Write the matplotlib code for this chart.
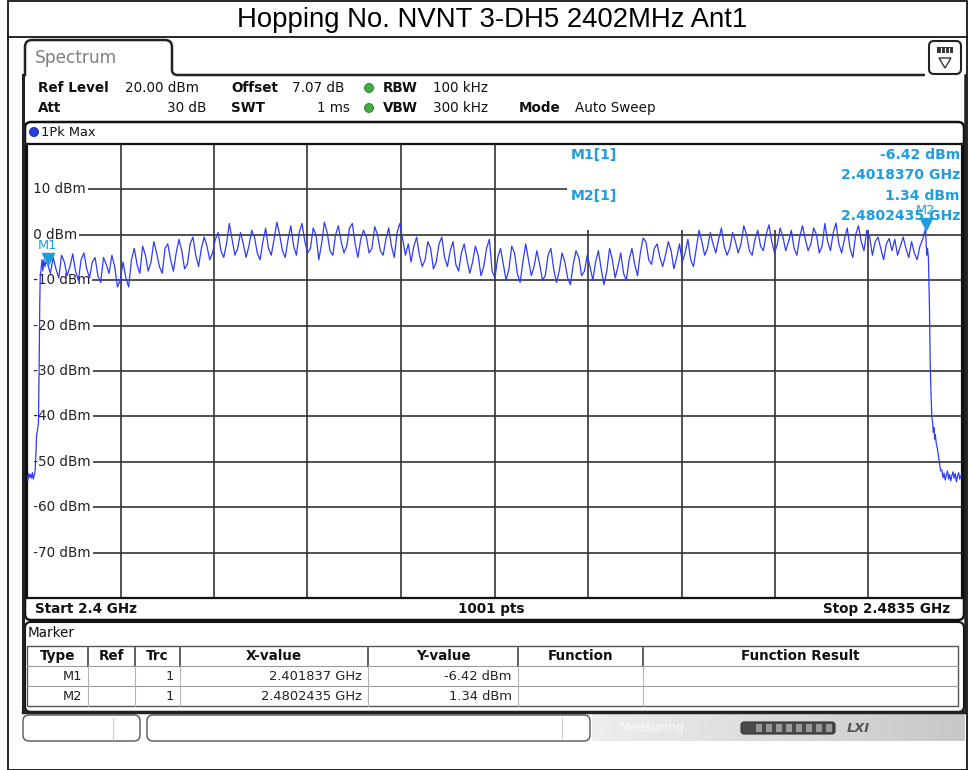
import numpy as np
import matplotlib
matplotlib.use('Agg')
import matplotlib.pyplot as plt
from matplotlib.patches import FancyBboxPatch, Rectangle, Circle, Polygon
from matplotlib.path import Path
from matplotlib.patches import PathPatch
import matplotlib.transforms as mtransforms

# ---------------- data ----------------
title = "Hopping No. NVNT 3-DH5 2402MHz Ant1"
f_start, f_stop = 2.4, 2.4835
ref_top, ref_bottom = 20, -80
level_ticks = [10, 0, -10, -20, -30, -40, -50, -60, -70]
n_xdiv = 10
m1_freq, m1_level = 2.401837, -6.42
m2_freq, m2_level = 2.4802435, 1.34

lead_freq = [2.40000, 2.40008, 2.40016, 2.40024, 2.40032, 2.40040, 2.40048, 2.40056,
             2.40064, 2.40072, 2.40080, 2.40086, 2.40094, 2.40102, 2.40108, 2.40114,
             2.40118, 2.40126, 2.40134, 2.40142, 2.40150, 2.40160, 2.40170]
lead_level = [-53.0, -54.2, -52.6, -53.4, -52.8, -53.6, -52.4, -53.8,
              -53.0, -52.2, -48.0, -44.0, -43.0, -41.5, -30.0, -15.0,
              -9.5, -7.5, -5.5, -8.0, -5.5, -7.0, -6.0]

main_level = [
    # 2.4018 - 2.4118
    -6.42, -8.5, -5.0, -7.5, -9.5, -4.5, -6.0, -9.0, -7.0, -4.2, -8.0, -10.0, -5.5, -4.0,
    -7.5, -9.5, -6.0, -5.0, -9.0, -10.5, -5.0, -6.5, -8.5, -4.5, -7.0, -11.5, -10.0, -6.0,
    -9.5, -11.5, -5.5, -3.0, -6.5, -8.5, -2.5, -4.5, -8.0, -6.0, -1.5, -4.0,
    # 2.4118 - 2.4218
    -7.0, -8.5, -3.0, -2.0, -5.5, -8.0, -4.0, -1.0, -3.5, -7.5, -6.5, -2.0, -0.5, -4.5,
    -7.0, -3.0, -0.5, -2.5, -5.5, -4.0, -1.0, 0.5, -3.5, -5.0, -2.0, 2.5, -1.0, -4.5,
    -3.0, 0.5, -2.0, -5.0, -2.5, 1.0, -0.5, -4.0, -5.5, -1.5, 1.5, -3.0,
    # 2.4218 - 2.4318
    -4.5, -1.0, 2.8, 0.0, -3.5, -5.0, -1.0, 2.0, -2.5, -4.5, 0.5, 2.5, -1.5, -4.0,
    -3.0, 1.5, 0.0, -5.5, -2.0, 2.8, 0.5, -3.5, -4.5, 0.0, 2.0, -1.5, -4.0, -2.5,
    1.5, 2.5, -2.0, -5.0, -1.0, 1.0, -0.5, -4.0, -3.0, 1.8, 0.0, -3.5,
    # 2.4318 - 2.4418
    -4.5, -1.0, 1.5, -2.5, -5.0, 0.5, 2.5, -1.0, -4.5, -2.0, -6.0, -2.5, -0.5, -4.5,
    -7.0, -5.5, -1.5, -3.0, -7.5, -6.0, -2.0, -0.5, -5.0, -7.0, -3.5, -1.5, -6.5, -8.0,
    -4.0, -2.0, -5.5, -8.5, -6.0, -2.5, -4.5, -9.0, -7.0, -3.0, -1.0, -8.0,
    # 2.4418 - 2.4518
    -9.5, -5.0, -3.0, -6.5, -10.0, -7.5, -2.5, -4.0, -8.5, -10.5, -6.0, -2.0, -5.5, -9.0,
    -7.0, -3.5, -6.5, -10.0, -9.0, -4.5, -3.0, -7.5, -10.5, -8.0, -4.0, -6.0, -9.5, -11.0,
    -6.5, -3.5, -5.0, -9.0, -8.0, -4.5, -7.0, -10.0, -6.0, -3.5, -7.5, -11.0,
    # 2.4518 - 2.4618
    -8.0, -3.0, -5.5, -9.5, -7.0, -4.0, -8.5, -10.0, -5.5, -3.0, -6.5, -9.0, -4.0, -0.7,
    -1.5, -5.5, -6.5, -3.0, -2.0, -5.0, -7.0, -4.5, -1.5, -3.5, -7.5, -5.0, -2.0, -6.0,
    -4.0, -1.0, -5.5, -7.0, -3.0, 1.0, -1.5, -4.5, -3.0, 0.5, -2.0, -4.0,
    # 2.4618 - 2.4718
    -1.0, 1.5, -2.5, -4.5, -3.0, 0.5, -1.5, -4.0, -2.0, 2.0, 0.0, -3.5, -4.5, -1.0,
    1.0, -2.5, -3.5, 0.0, 2.2, -1.5, -4.0, -2.0, 1.5, -0.5, -3.5, -1.5, 1.0, -3.0,
    -4.5, -0.5, 2.0, -1.0, -3.5, -2.0, 1.5, 0.0, -4.0, -2.5, 2.5, -1.5,
    # 2.4718 - 2.4802
    -3.5, 0.5, 2.6, -2.0, -4.0, -1.0, 1.5, -3.0, -5.0, 0.0, 2.0, -1.5, -3.5, 1.0,
    -0.5, -4.5, -1.5, -0.5, -3.0, -5.5, -2.0, -0.8, -3.5, -1.0, -4.5, -2.5, -0.5, -3.0,
    -5.0, -1.5, -4.0, -5.5, -2.5, -1.0, 1.34,
]

tail_freq = [2.48030, 2.48036, 2.48042, 2.48050, 2.48056, 2.48060, 2.48066, 2.48072,
             2.48080, 2.48088, 2.48094, 2.48100, 2.48106, 2.48112, 2.48120, 2.48130,
             2.48150, 2.48160, 2.48170, 2.48180, 2.48190, 2.48200, 2.48210, 2.48220,
             2.48230, 2.48240, 2.48250, 2.48260, 2.48270, 2.48280, 2.48290, 2.48300,
             2.48310, 2.48320, 2.48330, 2.48340, 2.48350]
tail_level = [-2.0, -4.5, -3.0, -5.0, -12.0, -17.0, -28.0, -34.0,
              -40.0, -41.5, -43.5, -42.5, -45.0, -44.0, -46.0, -47.0,
              -50.5, -52.0, -51.8, -53.5, -52.5, -54.0, -53.0, -52.0,
              -53.8, -52.8, -54.2, -53.0, -52.2, -53.6, -52.6, -54.4,
              -53.2, -52.4, -53.8, -53.0, -53.5]

header_row1 = [("Ref Level", True, 38), ("20.00 dBm", False, 125), ("Offset", True, 231),
               ("7.07 dB", False, 292), ("RBW", True, 383), ("100 kHz", False, 433)]
header_row2 = [("Att", True, 38), ("SWT", True, 231), ("VBW", True, 383),
               ("300 kHz", False, 433), ("Mode", True, 519), ("Auto Sweep", False, 575)]

table_cols = ["Type", "Ref", "Trc", "X-value", "Y-value", "Function", "Function Result"]
table_rows = [["M1", "", "1", "2.401837 GHz", "-6.42 dBm", "", ""],
              ["M2", "", "1", "2.4802435 GHz", "1.34 dBm", "", ""]]

# ---------------- figure ----------------
W, H = 970, 770
fig = plt.figure(figsize=(W / 100, H / 100), dpi=100)
fig.patch.set_facecolor('white')

bg = fig.add_axes([0, 0, 1, 1], zorder=0)
bg.set_xlim(0, W)
bg.set_ylim(H, 0)
bg.axis('off')

SANS = ['DejaVu Sans']
TRACE = '#2f3cf5'
MARK = '#1e9ee0'


def px(v):
    return v * 0.72


# outer title table
bg.add_patch(Rectangle((8, 0.5), 959, 769, fill=False, ec='black', lw=1.2))
bg.plot([8, 967], [37, 37], color='black', lw=1.2)
bg.text(492, 20, title, ha='center', va='center', fontsize=px(27.5),
        family=['Liberation Sans Narrow', 'Liberation Sans', 'DejaVu Sans'])

# screen: left / right dark borders
bg.plot([23, 23], [75, 712], color='#222222', lw=2.2)
bg.plot([965, 965], [75, 712], color='#222222', lw=1.8)

# tab outline
tab_verts = [(23, 75), (25, 75), (25, 47), (25, 40), (32, 40), (165, 40), (172, 40), (172, 47),
             (172, 70), (172, 75), (178, 75), (925, 75)]
tab_codes = [Path.MOVETO, Path.LINETO, Path.LINETO, Path.CURVE3, Path.CURVE3, Path.LINETO,
             Path.CURVE3, Path.CURVE3, Path.LINETO, Path.CURVE3, Path.CURVE3, Path.LINETO]
bg.add_patch(PathPatch(Path(tab_verts, tab_codes), fill=False, ec='#222222', lw=1.8))
bg.text(35, 58, "Spectrum", ha='left', va='center', fontsize=px(17), color='#808080',
        family=SANS)

# icon top right
bg.add_patch(FancyBboxPatch((929, 41), 32, 33, boxstyle="round,pad=0,rounding_size=5",
                            fc='white', ec='#222222', lw=1.5))
bg.add_patch(Rectangle((937, 47), 16, 6, fc='#333333', ec='none'))
for xx in (941, 945, 949):
    bg.plot([xx, xx], [47.5, 52.5], color='white', lw=0.8)
bg.add_patch(Polygon([[939, 58], [951, 58], [945, 68]], closed=True, fill=False,
                     ec='#333333', lw=1.0))

# header
for txt, bold, x in header_row1:
    bg.text(x, 88, txt, ha='left', va='center', fontsize=px(13.5),
            fontweight='bold' if bold else 'normal', family=SANS, color='#111111')
for txt, bold, x in header_row2:
    bg.text(x, 108, txt, ha='left', va='center', fontsize=px(13.5),
            fontweight='bold' if bold else 'normal', family=SANS, color='#111111')
bg.text(206, 108, "30 dB", ha='right', va='center', fontsize=px(13.5), family=SANS,
        color='#111111')
bg.text(350, 108, "1 ms", ha='right', va='center', fontsize=px(13.5), family=SANS,
        color='#111111')
for yy in (88, 108):
    bg.add_patch(Circle((369, yy), 4.5, fc='#44aa44', ec='#2a7a2a', lw=0.6))

# plot panel
bg.add_patch(FancyBboxPatch((25, 122), 939, 498, boxstyle="round,pad=0,rounding_size=6",
                            fill=False, ec='#111111', lw=1.8))
bg.add_patch(Circle((34, 132), 4.5, fc='#2a3fe0', ec='#1020a0', lw=0.6))
bg.text(41, 132, "1Pk Max", ha='left', va='center', fontsize=px(13), family=SANS,
        color='#111111')
bg.text(35, 609, f"Start {f_start:g} GHz", ha='left', va='center', fontsize=px(13.5),
        fontweight='bold', family=SANS, color='#111111')
bg.text(491, 609, "1001 pts", ha='center', va='center', fontsize=px(13.5),
        fontweight='bold', family=SANS, color='#111111')
bg.text(950, 609, f"Stop {f_stop:g} GHz", ha='right', va='center', fontsize=px(13.5),
        fontweight='bold', family=SANS, color='#111111')

# marker table panel
bg.add_patch(FancyBboxPatch((25, 622), 939, 90, boxstyle="round,pad=0,rounding_size=6",
                            fill=False, ec='#111111', lw=1.5))
bg.plot([23, 965], [712, 712], color='#222222', lw=2.5)
bg.text(28, 633, "Marker", ha='left', va='center', fontsize=px(13.5), family=SANS,
        color='#111111')
col_edges = [27, 88, 135, 180, 368, 518, 643, 958]
row_edges = [646, 666, 686, 706]
bg.add_patch(Rectangle((col_edges[0], row_edges[0]), col_edges[-1] - col_edges[0],
                       row_edges[-1] - row_edges[0], fill=False, ec='#555555', lw=1.0))
for yy in row_edges[1:-1]:
    bg.plot([col_edges[0], col_edges[-1]], [yy, yy], color='#9a9a9a', lw=0.8)
for xx in col_edges[1:-1]:
    bg.plot([xx, xx], [row_edges[0] + 2, row_edges[1]], color='#444444', lw=1.2)
    bg.plot([xx, xx], [row_edges[1], row_edges[-1]], color='#b5b5b5', lw=0.8)
for i, c in enumerate(table_cols):
    cx = (col_edges[i] + col_edges[i + 1]) / 2
    bg.text(cx, 656, c, ha='center', va='center', fontsize=px(13.5), fontweight='bold',
            family=SANS, color='#111111')
for r, row in enumerate(table_rows):
    yy = (row_edges[r + 1] + row_edges[r + 2]) / 2
    for i, v in enumerate(row):
        if v:
            bg.text(col_edges[i + 1] - 6, yy, v, ha='right', va='center', fontsize=px(13),
                    family=SANS, color='#222222')

# status bar
bg.add_patch(FancyBboxPatch((23, 715), 117, 26, boxstyle="round,pad=0,rounding_size=6",
                            fill=False, ec='#555555', lw=1.0))
bg.plot([113, 113], [718, 738], color='#cccccc', lw=0.8)
bg.add_patch(FancyBboxPatch((147, 715), 443, 26, boxstyle="round,pad=0,rounding_size=6",
                            fill=False, ec='#555555', lw=1.0))
bg.plot([562, 562], [718, 738], color='#cccccc', lw=0.8)
grad = np.linspace(0.93, 0.78, 200)[None, :]
bg.imshow(grad, extent=[592, 965, 741, 714], cmap='gray', vmin=0, vmax=1, aspect='auto',
          zorder=0.5)
bg.set_xlim(0, W)
bg.set_ylim(H, 0)
bg.text(620, 728, "Measuring...", ha='left', va='center', fontsize=px(12.5), color='#fafafa',
        family=SANS)
bg.add_patch(FancyBboxPatch((741, 722), 94, 12, boxstyle="round,pad=0,rounding_size=3",
                            fc='#4a4a4a', ec='#333333', lw=0.8))
for k in range(8):
    bg.add_patch(Rectangle((756 + k * 10, 724), 6, 8, fc='#9a9a9a', ec='none'))
bg.text(858, 728, "LXI", ha='center', va='center', fontsize=px(13), fontweight='bold',
        fontstyle='italic', color='#555555', family=SANS)

# ---------------- spectrum axes ----------------
x0, x1, y0, y1 = 27, 962, 144, 598
ax = fig.add_axes([x0 / W, 1 - y1 / H, (x1 - x0) / W, (y1 - y0) / H], zorder=1)
ax.set_facecolor('white')
ax.set_xlim(f_start, f_stop)
ax.set_ylim(ref_bottom, ref_top)
ax.set_xticks(np.linspace(f_start, f_stop, n_xdiv + 1)[1:-1])
ax.set_yticks(level_ticks)
ax.tick_params(length=0, labelbottom=False, labelleft=False)
ax.grid(True, color='#333333', lw=1.2)
ax.set_axisbelow(True)
for s in ax.spines.values():
    s.set_color('#111111')
    s.set_linewidth(1.6)

# white marker info area (covers grid)
ax.add_patch(Rectangle((0.578, 0.81), 0.422, 0.19, transform=ax.transAxes, fc='white',
                       ec='none', zorder=1.5))
# level labels
for v in level_ticks:
    ax.text(0.002, v, f" {v} dBm", transform=ax.get_yaxis_transform(), ha='left',
            va='center', fontsize=px(13.5), family=SANS, color='#222222', zorder=2,
            bbox=dict(fc='white', ec='none', pad=1.6))

freq = np.concatenate([lead_freq, np.linspace(m1_freq, m2_freq, len(main_level)), tail_freq])
level = np.concatenate([lead_level, main_level, tail_level])
ax.plot(freq, level, color=TRACE, lw=0.9, zorder=4)

# markers
for name, mf, ml in (("M1", m1_freq, m1_level), ("M2", m2_freq, m2_level)):
    tr = mtransforms.offset_copy(ax.transData, fig=fig, x=0, y=5, units='dots')
    ax.plot(mf, ml, marker='v', markersize=8, color=MARK, mec=MARK, transform=tr, zorder=5,
            clip_on=False)
    ax.annotate(name, (mf, ml), xytext=(0, 18), textcoords='offset pixels', ha='center',
                va='center', fontsize=px(13), color=MARK, family=SANS, zorder=5)

info = [("M1[1]", f"{m1_level:.2f} dBm", f"{m1_freq:.7f} GHz"),
        ("M2[1]", f"{m2_level:.2f} dBm", f"{m2_freq:.7f} GHz")]


def ax_y(yy):
    return 1 - (yy - y0) / (y1 - y0)


for i, (lab, lv, fq) in enumerate(info):
    ytop = 155 + i * 41
    ax.text((571 - x0) / (x1 - x0), ax_y(ytop), lab, transform=ax.transAxes, ha='left',
            va='center', fontsize=px(14), fontweight='bold', color=MARK, family=SANS,
            zorder=6)
    ax.text((960 - x0) / (x1 - x0), ax_y(ytop), lv, transform=ax.transAxes, ha='right',
            va='center', fontsize=px(14), fontweight='bold', color=MARK, family=SANS,
            zorder=6)
    ax.text((960 - x0) / (x1 - x0), ax_y(ytop + 20), fq, transform=ax.transAxes, ha='right',
            va='center', fontsize=px(14), fontweight='bold', color=MARK, family=SANS,
            zorder=6)

fig.savefig('out.png', dpi=100)
